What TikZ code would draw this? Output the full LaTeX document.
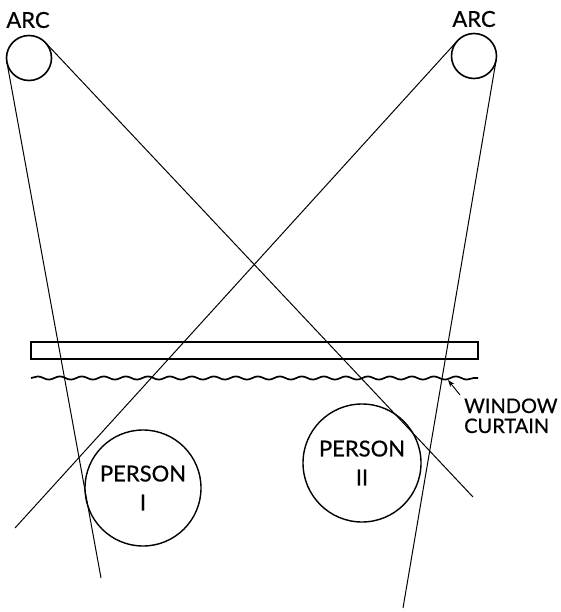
\documentclass[tikz,border=0pt]{standalone}
\usepackage{fontspec}
\setmainfont{Lato}[FakeBold=0.6]
\usetikzlibrary{decorations.pathmorphing,arrows.meta}
\begin{document}
\begin{tikzpicture}[x=1pt,y=-1pt,
  lbl/.style={font=\fontsize{22}{28}\selectfont, inner sep=0pt, align=center},
  curlbl/.style={font=\fontsize{20}{20}\selectfont, inner sep=0pt, anchor=base west},
  arcbulb/.style={draw, circle, line width=1.6pt, minimum size=45pt, inner sep=0pt, outer sep=0pt},
  person/.style={draw, circle, line width=1.4pt, inner sep=0pt, outer sep=0pt,
    font=\fontsize{22}{29}\selectfont, align=center},
  ray/.style={line width=1pt},
  curtain/.style={line width=1.7pt, decorate, decoration={snake, segment length=22pt, amplitude=1.6pt}}]
\useasboundingbox (0,0) rectangle (560,612);

% arcs
\node[arcbulb] (arcL) at (29,58) {};
\node[arcbulb] (arcR) at (474,56) {};
\node[lbl] (arcLlbl) at (28,20) {ARC};
\node[lbl] (arcRlbl) at (474,19) {ARC};

% persons
\node[person, minimum size=116pt] (p1) at (143,488) {PERSON\\I};
\node[person, minimum size=118pt] (p2) at (362,463) {PERSON\\II};

% window and curtain
\node[draw, line width=1.4pt, minimum width=447pt, minimum height=17pt, inner sep=0pt] (window) at (254.5,350.5) {};
\coordinate (cl) at (31,378);
\coordinate (cr) at (478,378);
\draw[curtain] (cl) -- (cr);

% label for curtain
\node[curlbl] (curlbl1) at (464,413) {WINDOW};
\node[curlbl] (curlbl2) at (464,433) {CURTAIN};
\coordinate (arrtail) at (460,395);
\coordinate (arrtip) at (448,380);
\draw[-{Stealth[length=7pt,width=5pt]}, line width=0.9pt] (arrtail) -- (arrtip);

% rays
\coordinate (e1) at (101,578);
\coordinate (e2) at (473,497);
\coordinate (e3) at (15,528);
\coordinate (e4) at (403,608);
\draw[ray] (arcL.190) -- (e1);
\draw[ray] (arcL.43) -- (e2);
\draw[ray] (arcR.138) -- (e3);
\draw[ray] (arcR.350) -- (e4);
\end{tikzpicture}
\end{document}
